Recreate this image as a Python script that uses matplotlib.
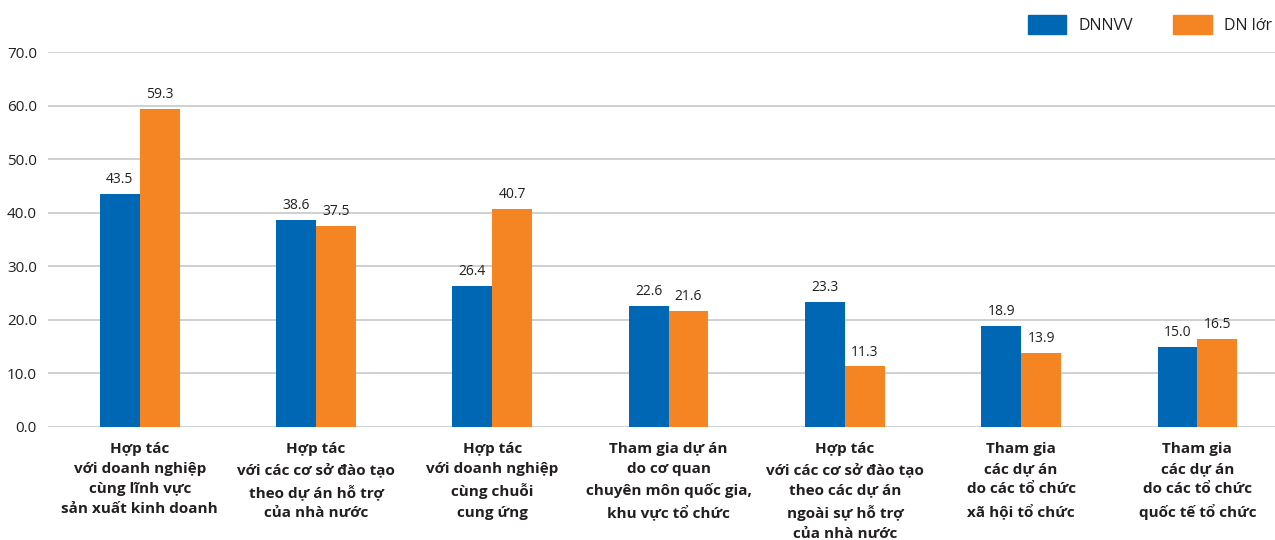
import matplotlib
matplotlib.use("Agg")
import matplotlib.pyplot as plt
from matplotlib.patches import Patch
import numpy as np

categories = [
    "Hợp tác\nvới doanh nghiệp\ncùng lĩnh vực\nsản xuất kinh doanh",
    "Hợp tác\nvới các cơ sở đào tạo\ntheo dự án hỗ trợ\ncủa nhà nước",
    "Hợp tác\nvới doanh nghiệp\ncùng chuỗi\ncung ứng",
    "Tham gia dự án\ndo cơ quan\nchuyên môn quốc gia,\nkhu vực tổ chức",
    "Hợp tác\nvới các cơ sở đào tạo\ntheo các dự án\nngoài sự hỗ trợ\ncủa nhà nước",
    "Tham gia\ncác dự án\ndo các tổ chức\nxã hội tổ chức",
    "Tham gia\ncác dự án\ndo các tổ chức\nquốc tế tổ chức",
]
dnnvv = [43.5, 38.6, 26.4, 22.6, 23.3, 18.9, 15.0]
dn_lon = [59.3, 37.5, 40.7, 21.6, 11.3, 13.9, 16.5]
series_names = ["DNNVV", "DN lớr"]
yticks = [0, 10, 20, 30, 40, 50, 60, 70]

blue = "#0067b4"
orange = "#f58423"
grid_color = "#c4c4c4"
text_color = "#231f20"

plt.rcParams["font.family"] = ["Open Sans", "DejaVu Sans"]

fig = plt.figure(figsize=(12.75, 5.4), dpi=100)
ax = fig.add_axes([48 / 1275, 1 - 427 / 540, 1 - 48 / 1275, 375 / 540])

x = np.arange(len(categories))
w = 0.226
b1 = ax.bar(x - w / 2, dnnvv, width=w, color=blue, zorder=3)
b2 = ax.bar(x + w / 2, dn_lon, width=w, color=orange, zorder=3)

for bars, vals in ((b1, dnnvv), (b2, dn_lon)):
    for rect, v in zip(bars, vals):
        ax.annotate(f"{v:.1f}", (rect.get_x() + rect.get_width() / 2, v),
                    xytext=(0, 5), textcoords="offset points",
                    ha="center", va="bottom", fontsize=10, color=text_color)

ax.set_ylim(0, 70)
ax.set_xlim(-0.52, 6.44)
ax.set_yticks(yticks)
ax.set_yticklabels([f"{t:.1f}" for t in yticks], fontsize=11, color=text_color)
ax.set_xticks(x)
ax.set_xticklabels(categories, fontsize=11, fontweight="bold", color=text_color,
                   linespacing=1.55, va="top")
ax.tick_params(axis="both", length=0)
ax.tick_params(axis="y", pad=8)
ax.tick_params(axis="x", pad=11)
ax.yaxis.grid(True, color=grid_color, linewidth=1.1, zorder=0)
ax.set_axisbelow(True)
for s in ax.spines.values():
    s.set_visible(False)

handles = [Patch(color=blue, label=series_names[0]),
           Patch(color=orange, label=series_names[1])]
fig.legend(handles=handles, loc="upper right",
           bbox_to_anchor=(1.0 + 7 / 1275, 1.0 - 5 / 540),
           ncol=2, frameon=False, fontsize=11.5, handlelength=2.4,
           handleheight=1.5, columnspacing=2.5, handletextpad=0.8,
           borderaxespad=0.0, borderpad=0.6, labelcolor=text_color)

fig.savefig("out.png", dpi=100, facecolor="white")
